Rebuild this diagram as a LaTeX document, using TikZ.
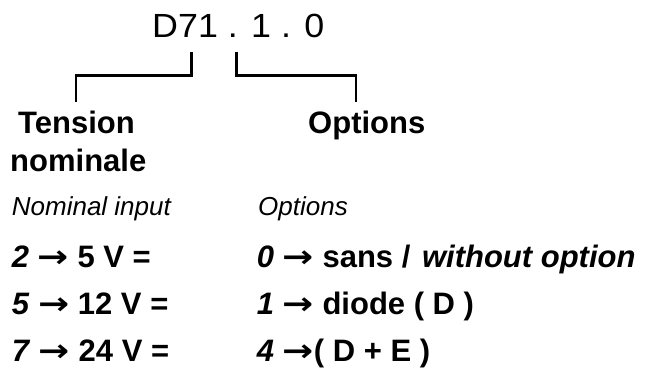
\documentclass[tikz,border=0pt]{standalone}
\usepackage{fontspec}
\setmainfont{Liberation Sans}
\newfontfamily\codefont[FakeStretch=1.07]{Liberation Sans}
\newfontfamily\arrowfont{DejaVu Sans}
\newcommand{\ar}{\scalebox{1.2}[1]{\arrowfont\bfseries →}}

\begin{document}
\begin{tikzpicture}[x=1pt,y=-1pt,
		label/.style={anchor=base west,inner sep=0pt,font=\fontsize{31}{37}\selectfont\bfseries},
		note/.style={anchor=base west,inner sep=0pt,font=\fontsize{26}{31}\selectfont\itshape},
		bracket/.style={line width=2.5pt}]
	\useasboundingbox (0,0) rectangle (646,371);

	\node[anchor=base west,inner sep=0pt,font=\fontsize{33.5}{40}\selectfont\codefont] (code) at (152,37.7) {D71 . 1 . 0};

	% brackets
	\coordinate (lt) at (191.5,52);
	\coordinate (rt) at (236.7,52);
	\coordinate (lb) at (76,101.7);
	\coordinate (rb) at (356,101.7);
	\draw[bracket] (lt) |- (lb |- 0,75.5) -- (lb);
	\draw[bracket] (rt) |- (rb |- 0,75.5) -- (rb);

	\node[label] (tension) at (18,134) {Tension};
	\node[label] (nominale) at (10,172) {nominale};
	\node[label] (options) at (308,134) {Options};

	\node[note] (input) at (11.7,216) {Nominal input};
	\node[note] (optnote) at (258,216) {Options};

	\foreach \v/\o [count=\i from 0] in {
		{\textit{2} \ar{} 5 V =}/{\textit{0} \ar{} sans /\hspace{3pt} \textit{without option}},
		{\textit{5} \ar{} 12 V =}/{\textit{1} \ar{} diode ( D )},
		{\textit{7} \ar{} 24 V =}/{\textit{4} \ar( D + E )}}{
		\node[label] (volt\i) at (11.7,268+47*\i) {\v};
		\node[label] (opt\i) at (256.7,268+47*\i) {\o};
	}
\end{tikzpicture}
\end{document}
